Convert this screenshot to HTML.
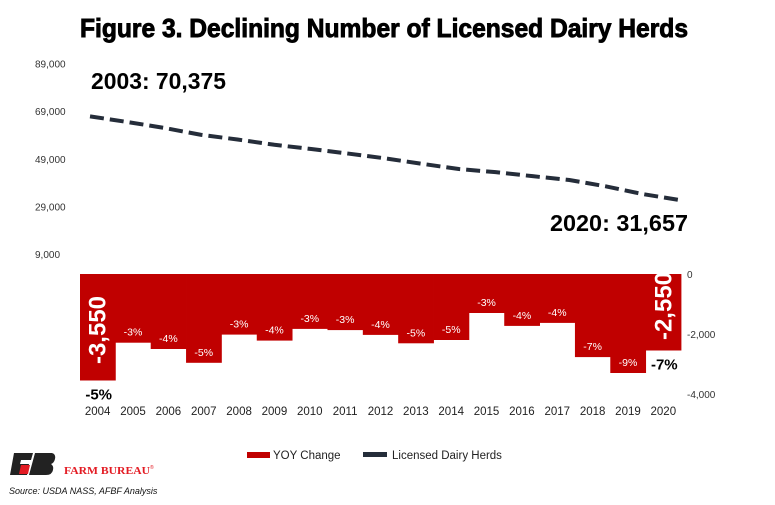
<!DOCTYPE html>
<html><head><meta charset="utf-8"><style>
html,body{margin:0;padding:0;background:#fff;}
svg{display:block;font-family:"Liberation Sans",sans-serif;}
</style></head><body>
<svg id="chart" width="775" height="505" viewBox="0 0 775 505">
<text x="80" y="37" font-size="26" font-weight="bold" fill="#000" stroke="#000" stroke-width="0.9" textLength="608" lengthAdjust="spacingAndGlyphs">Figure 3. Declining Number of Licensed Dairy Herds</text>
<g id="leftAxis"></g>
<g id="rightAxis"></g>
<g id="bars"></g>
<g id="line"></g>
<g id="xAxis"></g>
<text x="91" y="89" font-size="23" font-weight="bold" textLength="135" lengthAdjust="spacingAndGlyphs">2003: 70,375</text>
<text x="550" y="231" font-size="23" font-weight="bold" textLength="138" lengthAdjust="spacingAndGlyphs">2020: 31,657</text>
<g>
<rect x="247" y="452" width="23" height="6" fill="#c00000"/>
<text x="273" y="459" font-size="11.5" fill="#222">YOY Change</text>
<rect x="363" y="452" width="24" height="5" fill="#252d3a"/>
<text x="392" y="459" font-size="11.5" fill="#222">Licensed Dairy Herds</text>
</g>
<g>
<path d="M14 453 L33 453 L31 460 L21 460 L20 464 L29 464 L27 475 L10 475 Z" fill="#222"/>
<path d="M35 453 L52 453 Q56 454 55 459 Q54 463 51 464 Q54 466 53 470 Q52 475 46 475 L29 475 Z" fill="#222"/>
<path d="M21 465 L30 465 L28 474 L19 474 Z" fill="#e31b23"/>
<text x="64" y="474" font-family="Liberation Serif,serif" font-size="11" font-weight="bold" fill="#e31b23" textLength="86" lengthAdjust="spacingAndGlyphs">FARM BUREAU</text>
<text x="150" y="469" font-size="5" fill="#e31b23">®</text>
</g>
<text x="9" y="494" font-size="9" font-style="italic" fill="#111">Source:  USDA NASS, AFBF Analysis</text>
</svg>
<script>
const years = [2004,2005,2006,2007,2008,2009,2010,2011,2012,2013,2014,2015,2016,2017,2018,2019,2020];
const yoyChange = [-3550,-2290,-2500,-2960,-2020,-2220,-1830,-1870,-2030,-2310,-2200,-1300,-1730,-1630,-2770,-3300,-2550];
const pctLabels = ["-5%","-3%","-4%","-5%","-3%","-4%","-3%","-3%","-4%","-5%","-5%","-3%","-4%","-4%","-7%","-9%","-7%"];
const herds = [66825,64500,62000,59100,57100,54900,53100,51200,49200,46900,44700,43400,41700,40100,37400,34150,31657];
const leftTicks = [9000,29000,49000,69000,89000];
const leftTickLabels = ["9,000","29,000","49,000","69,000","89,000"];
const rightTicks = [0,-2000,-4000];
const rightTickLabels = ["0","-2,000","-4,000"];

const NS="http://www.w3.org/2000/svg";
function mk(tag,attrs,parent,text){const e=document.createElementNS(NS,tag);for(const k in attrs)e.setAttribute(k,attrs[k]);if(text!==undefined)e.textContent=text;parent.appendChild(e);return e;}
const yL=v=>254-(v-9000)*(47.6/20000);
const yBar=v=>274+(-v)*0.03;
const bx0=80,bw=(681-80)/years.length;
const xBar=i=>bx0+i*bw;
const xLine=i=>90+i*(680-90)/(years.length-1);

const la=document.getElementById('leftAxis');
leftTicks.forEach((t,i)=>{const e=mk('text',{x:35,y:yL(t)+4,'font-size':10,fill:'#333'},la,leftTickLabels[i]);

});
const ra=document.getElementById('rightAxis');
rightTicks.forEach((t,i)=>{const e=mk('text',{x:687,y:yBar(t)+4,'font-size':10,fill:'#333'},ra,rightTickLabels[i]);

});

const bg=document.getElementById('bars');
years.forEach((yr,i)=>{
  const x=xBar(i),v=yoyChange[i];
  const r=mk('rect',{x:x,y:yBar(0),width:bw+0.4,height:yBar(v)-yBar(0),fill:'#c00000'},bg);
  
  
  const first=i===0,last=i===years.length-1;
  if(first||last){
    const bt=mk('text',{x:x+bw/2+1,y:yBar(v)+19,'font-size':15,'font-weight':'bold',fill:'#000','text-anchor':'middle'},bg,pctLabels[i]);
    
    
    const vx=x+bw/2+8, vy=yBar(0)+(first?56:32);
    const vt=mk('text',{x:vx,y:vy,'font-size':24,'font-weight':'bold',fill:'#fff','text-anchor':'middle',transform:'rotate(-90 '+vx+' '+vy+')'},bg,v.toLocaleString('en-US'));
    
    
  } else {
    const t=mk('text',{x:x+bw/2,y:yBar(v)-7,'font-size':10.5,fill:'#fff','text-anchor':'middle'},bg,pctLabels[i]);
    
    
  }
});

const lg=document.getElementById('line');
const pts=herds.map((h,i)=>xLine(i)+','+yL(h)).join(' ');
const pl=mk('polyline',{points:pts,fill:'none',stroke:'#252d3a','stroke-width':4,'stroke-dasharray':'14 6'},lg);



const xa=document.getElementById('xAxis');
years.forEach((yr,i)=>{const t=mk('text',{x:xBar(i)+bw/2,y:415,'font-size':11.5,fill:'#222','text-anchor':'middle'},xa,String(yr));

});
</script>
</body></html>
